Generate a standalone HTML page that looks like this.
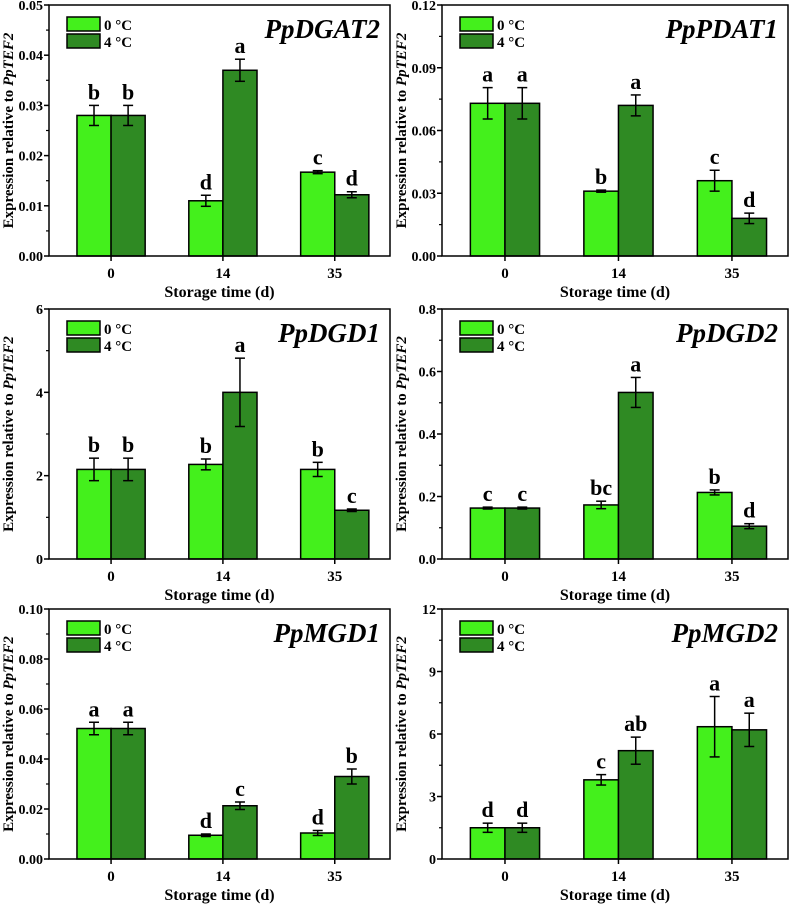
<!DOCTYPE html>
<html><head><meta charset="utf-8"><style>
body{margin:0;background:#fff}
svg{display:block;font-family:"Liberation Serif",serif;font-weight:bold}
</style></head><body>
<svg id="c" width="790" height="908" viewBox="0 0 790 908"></svg>
<script>
const categories=["0","14","35"];
const titles=["PpDGAT2","PpPDAT1","PpDGD1","PpDGD2","PpMGD1","PpMGD2"];
const cold0=[[0.028,0.011,0.0167],[0.073,0.031,0.036],[2.15,2.27,2.15],[0.163,0.173,0.213],[0.0522,0.0095,0.0104],[1.5,3.8,6.35]];
const err0=[[0.002,0.0011,0.0003],[0.0075,0.0005,0.005],[0.27,0.13,0.17],[0.003,0.012,0.008],[0.0025,0.0005,0.001],[0.22,0.25,1.45]];
const cold4=[[0.028,0.037,0.0122],[0.073,0.072,0.018],[2.15,4.0,1.17],[0.163,0.533,0.105],[0.0522,0.0213,0.033],[1.5,5.2,6.2]];
const err4=[[0.002,0.0022,0.0006],[0.0075,0.005,0.0025],[0.27,0.82,0.03],[0.003,0.048,0.008],[0.0025,0.0015,0.003],[0.22,0.65,0.8]];
const letters0=[["b","d","c"],["a","b","c"],["b","b","b"],["c","bc","b"],["a","d","d"],["d","c","a"]];
const letters4=[["b","a","d"],["a","a","d"],["b","a","c"],["c","a","d"],["a","c","b"],["d","ab","a"]];
const yTicks=[["0.00","0.01","0.02","0.03","0.04","0.05"],["0.00","0.03","0.06","0.09","0.12"],["0","2","4","6"],["0.0","0.2","0.4","0.6","0.8"],["0.00","0.02","0.04","0.06","0.08","0.10"],["0","3","6","9","12"]];
const svg=document.getElementById('c');
const NS="http://www.w3.org/2000/svg";
function mk(t,a,p){const e=document.createElementNS(NS,t);for(const k in a)e.setAttribute(k,a[k]);(p||svg).appendChild(e);return e;}
const cols=[[49,390],[442,788]],rows=[[5,256],[309,559],[609,859]];
const L="#44f01c",D="#2f8a23";
titles.forEach((t,p)=>{
 const [x0,x1]=cols[p%2],[y0,y1]=rows[Math.floor(p/2)];
 const g=mk('g',{});
 
 
 const ticks=yTicks[p].map(Number),ymax=ticks[ticks.length-1];
 const W=x1-x0;
 const yS=v=>y1-(v/ymax)*(y1-y0);
 const xS=i=>x0+W*(0.182+0.328*i);
 const bw=W*0.1;
 ticks.forEach((v,i)=>{
  const y=yS(v);
  mk('line',{x1:x0-5,x2:x0,y1:y,y2:y,stroke:'#000','stroke-width':1.5},g);
  const tx=mk('text',{x:x0-6,y:y+5,'text-anchor':'end','font-size':14},g);tx.textContent=yTicks[p][i];
  
  if(i<ticks.length-1){const ym=yS(v+(ticks[1]-ticks[0])/2);mk('line',{x1:x0-3,x2:x0,y1:ym,y2:ym,stroke:'#000','stroke-width':1.2},g);}
 });
 categories.forEach((c,i)=>{
  const cx=xS(i);
  mk('line',{x1:cx,x2:cx,y1:y1,y2:y1+5,stroke:'#000','stroke-width':1.5},g);
  const tx=mk('text',{x:cx,y:y1+22,'text-anchor':'middle','font-size':15},g);tx.textContent=c;
  
  [[cold0,err0,letters0,L,cx-bw],[cold4,err4,letters4,D,cx]].forEach(([vals,errs,lets,col,bx],s)=>{
   const v=vals[p][i],e=errs[p][i],y=yS(v);
   const r=mk('rect',{x:bx,y:y,width:bw,height:y1-y,fill:col,stroke:'#000','stroke-width':1.5},g);
   
   const ex=bx+bw/2,ya=yS(v+e),yb=yS(v-e);
   mk('line',{x1:ex,x2:ex,y1:ya,y2:yb,stroke:'#000','stroke-width':1.5},g);
   mk('line',{x1:ex-5,x2:ex+5,y1:ya,y2:ya,stroke:'#000','stroke-width':1.5},g);
   mk('line',{x1:ex-5,x2:ex+5,y1:yb,y2:yb,stroke:'#000','stroke-width':1.5},g);
   const lt=mk('text',{x:ex,y:ya-6,'text-anchor':'middle','font-size':22},g);lt.textContent=lets[p][i];
   
  });
 });
 mk('rect',{x:x0,y:y0,width:W,height:y1-y0,fill:'none',stroke:'#000','stroke-width':1.5},g);
 const ti=mk('text',{x:x1-10,y:y0+33,'text-anchor':'end','font-size':27,'font-style':'italic'},g);ti.textContent=t;
 
 const xt=mk('text',{x:(x0+x1)/2,y:y1+41,'text-anchor':'middle','font-size':16},g);xt.textContent='Storage time (d)';
 
 const yc=(y0+y1)/2,yl=mk('text',{x:0,y:0,'text-anchor':'middle','font-size':15,transform:`translate(${x0-36},${yc}) rotate(-90)`},g);
 yl.innerHTML='Expression relative to <tspan font-style="italic">PpTEF2</tspan>';
 
 [[L,'0 °C',12],[D,'4 °C',29]].forEach(([col,lab,dy])=>{
  const lg=mk('g',{},g);
  
  mk('rect',{x:x0+18,y:y0+dy,width:33,height:14,fill:col,stroke:'#000','stroke-width':1.5},lg);
  const lt=mk('text',{x:x0+55,y:y0+dy+13,'font-size':15},lg);lt.textContent=lab;
 });
});
</script>
</body></html>
